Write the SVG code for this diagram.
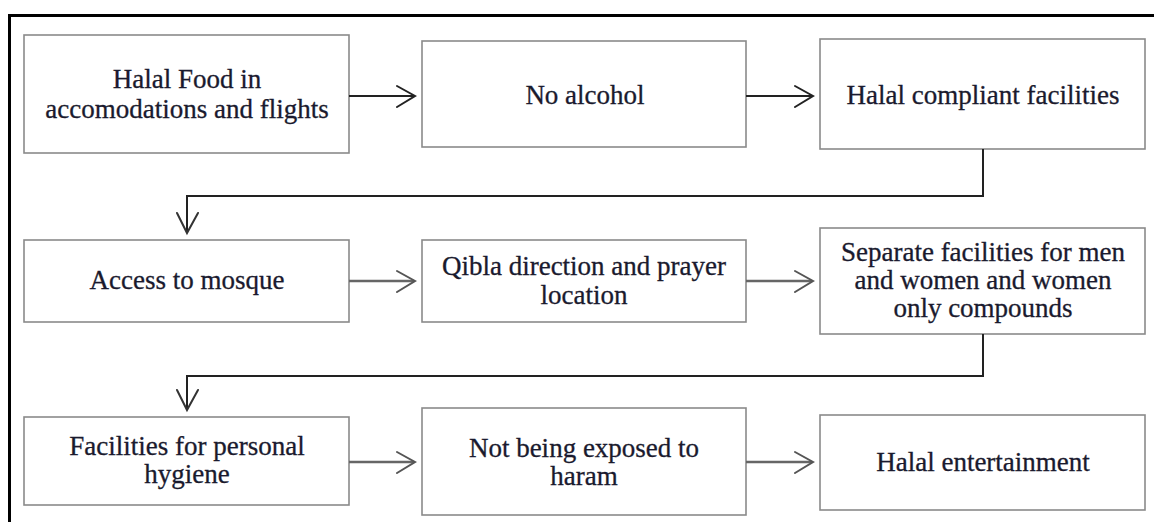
<svg xmlns="http://www.w3.org/2000/svg" width="1154" height="522" viewBox="0 0 1154 522">
<style>
.box{fill:#fff;stroke:#8a8a8a;stroke-width:1.6}
.t{font-family:"Liberation Serif","Times New Roman",serif;font-size:27px;fill:#1a1a2e;stroke:#1a1a2e;stroke-width:0.3;text-anchor:middle}
.c1{fill:none;stroke:#222;stroke-width:2}
.c2{fill:none;stroke:#666;stroke-width:2.4}
.ah{fill:none;stroke-width:2;stroke-linecap:round;stroke-linejoin:miter}
</style>
<rect x="0" y="0" width="1154" height="522" fill="#fff"/>
<rect x="9.5" y="15.5" width="1160" height="530" fill="none" stroke="#000" stroke-width="3"/>
<g id="n1"><rect class="box" x="24" y="35" width="325" height="118"/><text class="t" x="187" y="88">Halal Food in</text><text class="t" x="187" y="118">accomodations and flights</text></g>
<g id="n2"><rect class="box" x="422" y="41" width="324" height="106"/><text class="t" x="585" y="104">No alcohol</text></g>
<g id="n3"><rect class="box" x="820" y="39" width="325" height="110"/><text class="t" x="983" y="104">Halal compliant facilities</text></g>
<g id="n4"><rect class="box" x="24" y="240" width="325" height="82"/><text class="t" x="187" y="289">Access to mosque</text></g>
<g id="n5"><rect class="box" x="422" y="240" width="324" height="82"/><text class="t" x="584" y="275">Qibla direction and prayer</text><text class="t" x="584" y="304">location</text></g>
<g id="n6"><rect class="box" x="820" y="228" width="325" height="106"/><text class="t" x="983" y="261">Separate facilities for men</text><text class="t" x="983" y="289">and women and women</text><text class="t" x="983" y="317">only compounds</text></g>
<g id="n7"><rect class="box" x="24" y="417" width="325" height="88"/><text class="t" x="187" y="455">Facilities for personal</text><text class="t" x="187" y="483">hygiene</text></g>
<g id="n8"><rect class="box" x="422" y="408" width="324" height="107"/><text class="t" x="584" y="457">Not being exposed to</text><text class="t" x="584" y="485">haram</text></g>
<g id="n9"><rect class="box" x="820" y="415" width="325" height="95"/><text class="t" x="983" y="471">Halal entertainment</text></g>
<g id="connectors">
<path class="c1" d="M349 96H414"/><path class="ah" stroke="#222" d="M397 86L415 96L397 107"/>
<path class="c1" d="M746 96H812"/><path class="ah" stroke="#222" d="M795 86L813 96L795 107"/>
<path class="c1" d="M983 149V196H187V232" stroke="#333"/><path class="ah" stroke="#333" d="M177 213L187 233L198 213"/>
<path class="c2" d="M349 281H414"/><path class="ah" stroke="#555" d="M397 271L415 281L397 292"/>
<path class="c2" d="M746 281H812"/><path class="ah" stroke="#555" d="M795 271L813 281L795 292"/>
<path class="c1" d="M983 334V376H187V409" stroke="#333"/><path class="ah" stroke="#333" d="M177 390L187 410L198 390"/>
<path class="c2" d="M349 462H414"/><path class="ah" stroke="#555" d="M397 452L415 462L397 473"/>
<path class="c2" d="M746 462H812"/><path class="ah" stroke="#555" d="M795 452L813 462L795 473"/>
</g>
</svg>
